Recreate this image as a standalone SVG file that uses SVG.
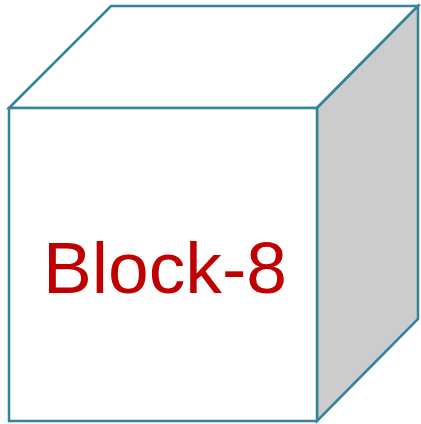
<svg xmlns="http://www.w3.org/2000/svg" width="421" height="424" viewBox="0 0 421 424">
<style>
.edge{stroke:#31849B;stroke-width:2.5;stroke-linejoin:miter}
.lbl{font-family:"Liberation Sans",Arial,sans-serif;font-size:72px;fill:#C00000}
</style>
<rect width="421" height="424" fill="#FFFFFF"/>
<g id="cube">
<polygon class="edge" points="9,108 111,6 418,6 317,108" fill="#FFFFFF"/>
<polygon class="edge" points="317,108 418,6 418,319 317,421" fill="#CCCCCC"/>
<rect class="edge" x="9" y="108" width="308" height="313" fill="#FFFFFF"/>
<text class="lbl" x="165" y="293" text-anchor="middle" textLength="244" lengthAdjust="spacingAndGlyphs">Block-8</text>
</g>
</svg>
